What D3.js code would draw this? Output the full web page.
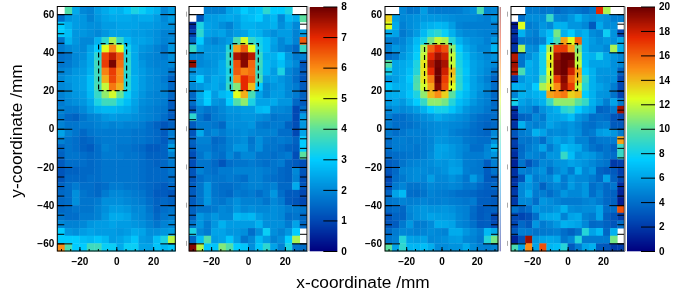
<!DOCTYPE html>
<html>
<head>
<meta charset="utf-8">
<script src="https://d3js.org/d3.v7.min.js"></script>
<style>
  html, body { margin: 0; padding: 0; background: #fff; }
  svg { display: block; filter: blur(0.4px); }
  text { font-family: "Liberation Sans", sans-serif; fill: #000; }
  .tick text { font-size: 10px; font-weight: bold; }
</style>
</head>
<body>
<div id="chart"></div>
<script>
const _ = null;

// rows run from the top of the plot (y = 64) down, each row has 16 bins
const low1 = [
  [_,3.9,2.5,2.0,1.9,2.3,2.5,2.7,2.6,2.9,3.3,3.1,2.8,2.6,2.0,2.3],
  [1.6,2.2,2.3,2.2,1.9,2.2,2.4,2.5,2.5,2.5,2.4,2.5,2.5,2.3,2.0,2.3],
  [3.0,2.6,2.3,2.2,2.1,2.1,2.3,2.3,2.4,2.4,2.4,2.3,2.3,2.2,2.1,2.1],
  [3.0,2.8,2.2,2.2,2.1,2.0,2.2,2.4,2.4,2.4,2.3,2.3,2.2,2.1,1.9,1.9],
  [1.7,2.6,2.2,2.0,2.0,2.6,3.5,4.6,3.6,2.7,2.4,2.4,2.3,2.1,1.9,2.0],
  [1.8,2.0,2.1,2.0,2.4,3.0,5.0,6.0,5.0,3.2,2.5,2.2,2.1,1.9,1.7,2.2],
  [1.6,1.7,2.0,2.1,2.5,3.5,6.7,7.3,6.5,3.4,2.5,2.1,2.0,1.9,1.8,2.1],
  [1.7,1.8,2.0,2.2,2.5,3.7,6.8,7.9,6.3,3.5,2.5,2.2,2.0,1.9,1.9,2.0],
  [1.9,2.0,2.2,2.3,2.6,3.7,6.1,6.8,6.0,3.5,2.5,2.3,2.1,2.0,1.9,1.7],
  [2.0,2.2,2.3,2.4,2.8,3.7,5.7,6.7,6.0,3.4,2.6,2.3,2.1,2.0,1.8,1.4],
  [2.0,2.1,2.3,2.4,2.8,3.8,4.8,6.2,5.7,3.4,2.6,2.3,2.1,2.0,1.9,1.5],
  [1.9,2.1,2.2,2.3,2.7,3.6,4.4,4.9,4.1,3.1,2.5,2.2,2.0,1.9,1.9,1.5],
  [1.8,2.0,2.1,2.2,2.5,3.3,3.7,3.7,3.2,2.8,2.4,2.1,2.0,1.9,1.8,1.3],
  [1.9,1.8,1.8,2.0,2.3,2.6,2.7,2.7,2.6,2.5,2.3,2.0,1.9,1.8,1.7,1.3],
  [1.8,1.5,1.4,1.7,1.9,2.0,2.2,2.3,2.2,2.2,2.1,2.0,1.9,1.8,1.6,1.3],
  [1.9,1.7,1.7,1.8,1.8,1.9,2.0,1.9,2.0,1.9,1.9,1.8,1.6,1.4,1.2,1.4],
  [2.4,1.9,1.7,1.5,1.7,1.8,1.8,1.8,1.8,1.8,1.7,1.7,1.6,1.5,1.3,1.8],
  [1.9,1.7,1.6,1.4,1.5,1.7,1.8,1.8,1.8,1.8,1.7,1.7,1.6,1.5,1.3,1.8],
  [1.5,1.7,1.6,1.4,1.3,1.6,1.9,1.8,1.7,1.7,1.6,1.5,1.3,1.3,1.4,2.3],
  [1.4,1.7,1.7,1.6,1.5,1.6,1.8,1.8,1.8,1.7,1.7,1.6,1.4,1.4,1.4,1.9],
  [1.3,1.6,1.6,1.6,1.5,1.6,1.7,1.7,1.7,1.7,1.7,1.6,1.5,1.4,1.5,1.8],
  [1.2,1.4,1.4,1.5,1.5,1.6,1.7,1.7,1.7,1.7,1.7,1.6,1.5,1.5,1.5,1.7],
  [1.2,1.5,1.5,1.5,1.6,1.6,1.7,1.7,1.7,1.7,1.7,1.6,1.5,1.5,1.5,1.6],
  [1.4,1.6,1.8,1.6,1.6,1.5,1.6,1.8,1.8,1.7,1.7,1.6,1.5,1.4,1.3,1.5],
  [1.5,1.6,2.1,1.7,1.6,1.5,1.8,2.0,2.0,1.9,1.8,1.7,1.5,1.3,1.3,1.2],
  [1.5,1.6,2.1,1.7,1.7,1.8,2.1,2.1,2.1,2.0,1.9,1.8,1.6,1.4,1.5,1.4],
  [1.5,1.6,1.7,1.7,1.7,1.9,2.1,2.3,2.3,2.2,2.0,2.0,1.7,1.4,1.6,1.7],
  [1.7,1.6,1.6,1.8,1.8,1.9,2.2,2.5,2.5,2.4,2.1,2.0,1.8,1.5,1.7,1.8],
  [2.0,1.9,1.9,2.0,2.2,2.3,2.3,2.4,2.3,2.3,2.2,2.1,1.9,1.7,1.9,2.0],
  [3.0,2.2,2.1,2.3,2.4,2.3,2.3,2.3,2.2,2.3,2.5,2.4,2.1,2.1,2.2,2.3],
  [3.0,3.0,3.0,2.8,2.7,2.9,2.7,2.3,2.4,2.6,2.9,2.3,2.2,2.8,3.3,4.7],
  [6.0,3.8,3.0,3.0,3.7,3.7,3.1,3.1,2.5,3.1,3.1,2.4,2.4,2.9,2.7,2.9]
];

const low2 = [
  [_,_,1.9,1.9,1.9,2.4,2.6,3.0,2.7,2.9,3.5,3.0,3.0,3.3,_,_],
  [_,1.2,2.3,2.3,2.4,2.5,2.4,2.7,2.8,3.0,2.5,2.7,2.0,2.7,2.5,4.0],
  [0.6,3.3,2.4,2.3,2.1,1.9,2.3,2.6,2.6,2.5,2.5,2.6,2.1,2.4,2.0,_],
  [0.9,3.5,2.4,2.3,2.4,2.1,2.3,2.4,2.7,2.6,2.3,2.1,2.3,2.3,1.9,2.3],
  [1.5,3.0,2.1,1.9,2.1,2.3,3.8,4.9,3.6,3.2,2.8,2.4,2.0,2.3,1.9,6.5],
  [3.6,2.4,2.2,2.2,2.2,3.4,5.8,6.5,5.0,3.3,2.8,2.3,2.0,1.8,1.5,3.6],
  [2.0,2.0,2.2,2.2,2.3,3.6,7.5,7.8,7.4,3.6,2.6,2.6,3.0,2.2,1.8,1.9],
  [7.7,2.0,2.1,2.2,2.5,3.5,6.6,7.8,6.4,3.7,2.7,2.5,2.8,2.3,2.0,1.2],
  [2.1,2.3,2.2,2.3,2.5,3.3,6.5,6.1,6.3,3.6,2.7,2.3,3.3,2.0,1.7,1.3],
  [2.3,3.0,2.2,2.5,2.4,3.4,6.0,7.0,6.5,3.8,2.3,2.4,2.2,2.0,1.6,1.2],
  [2.0,2.2,2.4,2.5,2.3,3.6,4.3,7.0,5.6,3.0,2.0,2.2,2.3,2.0,1.8,1.3],
  [1.5,2.5,3.0,2.3,2.7,2.9,5.0,5.7,3.8,2.4,2.0,2.3,2.3,2.0,1.8,1.4],
  [1.6,2.4,3.0,2.2,2.1,3.0,3.9,4.4,3.3,2.4,2.4,2.5,2.2,2.2,1.5,1.3],
  [1.2,1.9,1.7,1.8,2.0,2.2,2.2,2.3,2.3,2.7,2.8,2.0,2.0,1.9,1.0,1.6],
  [3.5,1.7,1.4,1.8,1.9,2.1,2.1,2.2,2.2,2.1,2.0,1.7,1.8,1.8,1.0,2.3],
  [1.3,1.8,1.8,1.7,1.5,2.1,2.1,2.1,2.2,1.8,1.7,1.8,1.8,1.4,1.1,2.2],
  [1.2,2.5,1.8,2.0,1.8,2.0,2.0,2.1,2.0,1.9,1.9,1.9,1.6,1.6,1.0,2.4],
  [1.4,1.9,1.9,1.5,1.6,1.9,2.0,2.1,1.7,2.1,1.8,1.7,1.8,1.7,1.4,3.0],
  [1.3,1.8,1.8,1.6,1.7,1.9,2.2,2.2,1.8,2.1,1.7,1.7,1.6,1.4,1.3,3.0],
  [1.1,1.7,2.0,1.7,1.6,2.0,1.7,2.0,2.0,1.7,1.7,1.6,1.7,1.8,1.1,4.0],
  [1.1,1.7,1.7,1.5,1.2,1.6,1.7,1.7,1.8,1.7,1.6,1.7,1.8,1.4,1.3,1.1],
  [1.2,1.9,1.7,1.6,1.8,1.8,1.9,1.9,1.9,1.9,1.8,1.7,1.5,1.4,2.0,1.2],
  [1.2,1.6,1.8,1.7,1.7,1.8,1.7,1.6,1.9,1.9,1.7,1.6,1.5,1.4,1.9,1.1],
  [1.3,1.7,2.2,1.7,1.6,1.6,1.7,1.8,1.9,1.9,1.8,1.9,1.5,1.5,2.5,1.2],
  [1.3,1.7,2.2,1.7,1.6,1.5,1.8,1.7,1.8,1.6,1.8,2.2,1.6,1.3,1.3,1.0],
  [1.3,1.7,2.2,1.8,1.7,1.9,2.1,1.9,1.9,1.9,1.7,2.0,1.8,1.3,1.2,1.0],
  [1.4,1.7,1.7,1.8,2.0,1.9,2.2,2.0,2.1,2.0,2.0,2.1,2.0,1.8,1.8,1.7],
  [1.4,2.2,2.0,2.2,2.0,2.0,2.7,2.6,2.7,2.3,2.1,2.1,2.0,1.6,1.7,1.5],
  [1.7,2.2,1.8,2.2,2.6,2.3,2.3,2.3,2.3,2.6,2.1,2.1,2.1,1.8,2.4,1.5],
  [3.3,2.0,1.8,2.4,2.4,2.2,2.2,2.1,1.6,2.1,3.1,2.1,1.9,2.2,3.0,_],
  [1.5,2.8,3.9,2.3,2.4,2.9,2.3,1.7,2.0,2.7,2.3,1.9,2.1,3.0,4.6,_],
  [7.8,4.7,2.9,2.9,4.3,3.9,3.0,2.9,2.1,2.9,3.5,2.4,1.9,3.3,1.7,1.6]
];

const high1 = [
  [_,_,5.0,4.3,4.5,5.8,4.6,4.5,4.5,4.5,4.6,5.0,5.3,9.5,4.8,5.0],
  [13.5,5.8,5.0,5.2,5.4,5.6,5.6,5.5,5.4,5.2,5.0,5.0,5.0,4.8,4.6,5.5],
  [12.5,6.3,4.7,5.2,5.5,6.2,6.5,6.8,6.6,5.8,4.8,4.6,4.6,4.6,4.6,4.7],
  [6.3,6.0,4.4,5.0,5.7,6.8,8.2,8.7,7.7,6.5,5.4,5.0,5.0,4.8,4.7,4.7],
  [4.6,4.6,4.9,5.7,6.8,8.2,10.5,12,11.5,8.5,6.5,5.7,5.3,5.2,4.7,5.6],
  [4.6,5.6,5.2,6.0,7.2,11.5,16,17.5,16.5,11,7.5,6.2,5.6,5.0,5.0,6.7],
  [4.0,4.4,5.5,6.3,7.6,12,17.5,19,18,12,8,6.8,5.8,5.4,5.0,5.4],
  [9.8,6,6.2,6.6,8.3,13,18.5,19.8,18.8,12,8.2,7,6,5.6,5.2,5.0],
  [8,6,6.3,7,8.5,13,17.5,20,18,14,8.5,7.2,6,5.5,5.0,4.2],
  [5.5,5.8,6.4,7.3,9.5,13,15.5,20,17,13.5,8.6,7,6,5.3,4.6,3.5],
  [7.2,6.5,6.5,7.0,9.7,12.2,14.5,19.5,16.5,12.5,8.8,7.2,6,5.5,5,4],
  [6.3,6.4,6.4,7.2,8.3,11,14,15,13.5,10,7.7,6.8,6,5.2,4.7,3.8],
  [5.7,6,5.6,6.5,7.5,9,11,11,10.5,8.5,7,6.4,5.6,5,4.6,3.8],
  [5,5.3,5,5.3,5.8,6.5,7.5,8,8,7.2,6.4,5.5,5,4.8,4.3,4],
  [4.6,4,4,4.4,4.8,5.2,5.6,6.2,5.8,5.6,5.3,5.0,4.4,4,3.8,4],
  [4.5,4.0,4,4.1,4.4,4.8,5,5.2,5.2,5,4.9,4.6,4.1,3.8,3.5,3.8],
  [4.4,4,4.3,4.7,4.7,4.6,5,5.2,5.3,4.8,4.5,4.3,4,3.8,3.6,5],
  [4,4.5,4.6,4.4,4.6,4.6,4.9,5.5,5.4,5.1,5,4.4,4.2,4,4,5.3],
  [4,4.5,4.5,4.5,4.3,4.6,5,6,6,5.6,5.2,4.8,4,4,4.8,6.5],
  [3.7,3.9,4.1,4.3,4.3,4.6,5.2,6,5.8,5.6,5.2,4.6,4.5,4.5,5,5.5],
  [3.3,3.6,4.2,4.7,4.9,5,5.2,5.5,5.4,5.8,5.6,4.6,4.5,4.3,3.3,4.7],
  [3,3.8,4.8,5,5.2,5.1,5,5.2,5.4,6,5.9,4.7,4.4,4.3,3.3,4.2],
  [2.5,4,4.4,5,5.2,4.9,5.8,5,5,5.4,5,4.3,5.7,4.6,3.2,3.3],
  [2.8,4.4,4.9,4.2,4.2,4.5,5,4.8,4.8,5,4.8,4.3,4.4,3.8,3.4,3.8],
  [3.6,6,6.8,4,3.9,4.2,4.8,4.6,4.5,4.3,4,3.9,3.7,3.4,3.3,3.2],
  [4.2,4.5,4.8,4.6,4.7,4.9,4.7,4.7,4.8,4.6,4.5,4.3,4.5,3.4,3.4,3.2],
  [3.7,4.0,3.7,5,5.3,5.6,5.4,5.4,5.5,5.3,4.9,4.7,3.9,3.2,3.4,3.5],
  [2.9,3.6,3.6,4.8,5.3,5.6,6.0,5.8,5.7,5.6,5.0,4.7,3.8,3.2,3.5,2.4],
  [3.0,3.3,4.4,5.6,4.5,4.6,5.1,6.3,6.2,6,5.0,4.7,4.1,3.3,3.4,2.6],
  [3.8,4.5,5,4.9,4.7,4.9,5.2,5,4.8,6.3,6.3,5.5,5,4.5,6.8,6.2],
  [4.3,4.7,8.5,6,5.8,6,5,5.1,5.3,5.7,5.8,5,4.8,4.3,8.5,10.5],
  [10,6,8.8,6.7,6.7,7,6.4,5.1,5.1,5.4,5.4,6.3,5.2,4.7,4.6,4.8]
];

const high2 = [
  [_,_,4.5,4.6,4.3,4.5,3.8,4.2,4.5,4.2,3.9,4.4,17.5,11.5,_,_],
  [_,4,5.2,5.2,5.2,9,5,4.8,5.5,6.5,5.5,5.2,5.6,5.3,4.6,4.7],
  [0.8,12.5,4.5,4.8,5.5,5,6.5,6.5,5.5,5.5,5,3.2,6.2,5.2,5.2,_],
  [1.6,6.5,5,4.6,6,7,10.5,6.5,7.5,6,6.5,5.2,4.8,7.8,5.4,2.5],
  [1.3,4.3,4.5,4.3,4.8,7.5,9.5,14.5,12.5,16,6.5,5.7,5.2,5.6,5.3,6.2],
  [1.8,11.5,5.3,5,7.5,11.5,17,17,14.5,10.5,6.5,5.5,5.5,5,11.5,6.5],
  [18.5,4.2,5.2,6,8,12.5,19,20,20,11.5,6.8,6.5,8,6,5.5,5],
  [19,4.2,6.5,6,8,13,19.5,20,19.5,12,7,6,6,6,5.3,5],
  [18.5,9.5,6.3,6,8,12.5,19.5,20,18,14.5,7.5,6.5,5.5,5.5,5.4,3.5],
  [2,5.5,6.2,6,9.5,12,17,19.5,16,14,9,6.5,5.5,5.3,5.3,2.5],
  [6.5,6.4,6,7.5,11.5,13,15,19,17,12,8.5,6.5,6,5.5,4.6,2.5],
  [4.8,6.5,6.2,6.5,6.8,14.5,15,15.5,13.5,14,7.5,6.5,5.5,5.4,4.2,2.4],
  [8,6,5.5,6,6.5,9,11,11,11,10,9,6.5,5.7,4.6,6,4.5],
  [1.5,5.2,5,4,5.3,6,6.5,8.5,9,7.5,6.5,6,3.5,3.8,4.5,19],
  [1.2,3.5,3.8,5,4.5,6,6,6.3,7,5.5,5,4,4.2,4,3,2.6],
  [1.8,6.5,5,4.6,5,6,5.5,5.2,5.5,5,4.2,4,4.5,4.7,3.2,3.2],
  [3,4.5,4.8,6.5,6,5,5.2,5,5.5,5.2,4.2,4.5,5.7,6,5.5,4.5],
  [2.2,4.3,4.2,4.7,4,5.4,6,5.5,6,4.8,4.8,3.9,4.4,4.5,4.5,14.5],
  [2,3.8,4.5,5,6,4.5,5.5,7,6.5,6.2,5,4.2,3.8,4.2,3.5,9],
  [1.6,4,5,4.8,4.5,5.5,5.5,9,7,5.5,5.8,5.5,4.8,4.2,4,9],
  [1.2,4.2,3,4,5,4.8,5.4,5.5,6,5.7,5.4,5,4.5,4.2,2,2.3],
  [1.7,4.7,4.5,5,5.4,4,5,5.5,4.5,6.5,5,5.5,3.6,3.3,3.2,2.2],
  [1.7,3,6,4.5,5,5,6.2,4.5,5.5,5,5,4.5,3.8,6,3.5,2.5],
  [1.8,5,5.5,4.8,3.5,4.6,5,4.5,5.7,5,5.5,4,4.5,3.8,4.3,1.5],
  [2,5,6.2,4.5,4.6,4,4.6,5.5,5,5,5.5,4,4.8,3.8,3.5,1.2],
  [2,5,5,4,5.5,5.2,4.8,4.5,4.5,4.5,4.8,5,4.5,3.8,3.5,1],
  [4.2,3.5,4,5.5,5.2,5.2,5.6,6.5,5.2,5,5.2,5.2,6,4,4,16.5],
  [2.5,2.4,2.8,4,6,6.2,6.4,4.8,6,6.2,4.8,4.5,6,3.5,3,2.2],
  [2.4,3.8,3.2,5.5,4.5,5,5.6,6.5,6.3,6,5,3.8,4,3.5,3,4],
  [3.2,4.6,4.5,4.2,4.4,4.5,4.7,4,3.5,4.2,8.5,6,6.8,3.7,6.5,_],
  [1.2,2.8,19,5.5,6,6.2,6,4.3,5,8.5,4.5,4.5,4.5,4.5,10.5,_],
  [9.5,6,15,6,16.5,6.7,7,8.5,3.2,4.5,6,6.5,3.2,3,2,2.2]
];

// bin edges in mm
const xEdges = d3.range(-32, 33, 4);
const yEdges = d3.range(64, -65, -4);
const xTicks = [-20, 0, 20];
const yTicks = [-60, -40, -20, 0, 20, 40, 60];
const yMinor = d3.range(-60, 61, 5);
const xMinor = d3.range(-30, 31, 5);
// dashed box around the hot region
const boxX = [-9.6, 5.6];
const boxY = [20, 44.6];

// palette, position is the fraction of the bar
const paletteStops = [0, 0.125, 0.25, 0.375, 0.5, 0.625, 0.75, 0.875, 1];
const paletteColors = ["#00007f", "#0048b4", "#0088d8", "#00ccff", "#5ae0a0", "#e0ff20", "#fa8c14", "#e62800", "#6e0000"];

const lowTicks = d3.range(0, 9);
const highTicks = d3.range(0, 21, 2);

const width = 677, height = 297;
const plotTop = 6.5, plotBottom = 251;

const svg = d3.select("#chart").append("svg")
  .attr("width", width)
  .attr("height", height);

const fraction = d3.scaleLinear().domain(paletteStops).range(paletteColors);

const y = d3.scaleLinear().domain([64, -64]).range([plotTop, plotBottom]);

function drawPanel(values, left, right, max, showY) {
  const x = d3.scaleLinear().domain([-32, 32]).range([left, right]);
  const g = svg.append("g");

  values.forEach(function(row, i) {
    row.forEach(function(v, j) {
      if (v === null) return;
      g.append("rect")
        .attr("x", x(xEdges[j]))
        .attr("y", y(yEdges[i]))
        .attr("width", x(xEdges[j + 1]) - x(xEdges[j]) + 0.4)
        .attr("height", y(yEdges[i + 1]) - y(yEdges[i]) + 0.4)
        .attr("fill", fraction(v / max));
    });
  });

  // minor and major ticks on both sides
  g.append("g").attr("transform", "translate(" + left + ",0)")
    .call(d3.axisLeft(y).tickValues(yMinor).tickSize(-7).tickFormat(""));
  g.append("g").attr("transform", "translate(" + right + ",0)")
    .call(d3.axisRight(y).tickValues(yMinor).tickSize(-7).tickFormat(""));
  g.append("g").attr("transform", "translate(" + right + ",0)")
    .call(d3.axisRight(y).tickValues(yTicks).tickSize(-15).tickFormat(""));
  const yAxis = g.append("g").attr("transform", "translate(" + left + ",0)")
    .call(d3.axisLeft(y).tickValues(yTicks).tickSize(-15));
  if (showY) {
    yAxis.selectAll("text").attr("x", -3);
  } else {
    yAxis.selectAll("text").remove();
  }

  g.append("g").attr("transform", "translate(0," + plotBottom + ")")
    .call(d3.axisBottom(x).tickValues(xMinor).tickSize(-2).tickFormat(""));
  const xAxis = g.append("g").attr("transform", "translate(0," + plotBottom + ")")
    .call(d3.axisBottom(x).tickValues(xTicks).tickSize(-4));
  xAxis.selectAll("text").attr("y", 7).attr("dy", "0.71em");

  g.selectAll(".domain").remove();

  g.append("rect")
    .attr("x", left).attr("y", plotTop)
    .attr("width", right - left).attr("height", plotBottom - plotTop)
    .attr("fill", "none").attr("stroke", "#000").attr("stroke-width", 1);

  g.append("path")
    .attr("d", d3.line()([[x(boxX[0]), y(boxY[0])], [x(boxX[1]), y(boxY[0])], [x(boxX[1]), y(boxY[1])], [x(boxX[0]), y(boxY[1])]]) + "Z")
    .attr("fill", "none")
    .attr("stroke", "#000")
    .attr("stroke-width", 1.2)
    .attr("stroke-dasharray", "5,3");
}

function drawBar(left, right, max, ticks) {
  const scale = d3.scaleLinear().domain([0, max]).range([plotBottom, plotTop]);
  const g = svg.append("g");
  const levels = d3.range(0, 244);
  g.selectAll("rect").data(levels).enter().append("rect")
    .attr("x", left)
    .attr("width", right - left)
    .attr("y", function(d) { return plotBottom - d - 1; })
    .attr("height", 1.3)
    .attr("fill", function(d) { return fraction((d + 0.5) / 244); });
  const axis = g.append("g").attr("transform", "translate(" + right + ",0)")
    .call(d3.axisRight(scale).tickValues(ticks).tickSize(-14));
  axis.selectAll("text").attr("x", 4);
  axis.select(".domain").remove();
  // the panel edge next to the bar is grey in the original
  svg.append("line")
    .attr("x1", left - 2).attr("x2", left - 2)
    .attr("y1", plotTop).attr("y2", plotBottom)
    .attr("stroke", "#999").attr("stroke-width", 1.5);
}

// leftovers between the panels: clipped labels and a sliver of colour bar
function drawScraps(x) {
  svg.append("g").selectAll("rect").data(yTicks).enter().append("rect")
    .attr("x", x)
    .attr("y", function(d) { return y(d) - 2.5; })
    .attr("width", 1)
    .attr("height", 5)
    .attr("fill", "#aaa");
}

drawPanel(low1, 57.3, 175.3, 8, true);
drawPanel(low2, 189, 307, 8, false);
drawBar(309.7, 337.3, 8, lowTicks);
drawPanel(high1, 385, 498, 20, true);
drawPanel(high2, 511, 624.3, 20, false);
drawBar(627, 655, 20, highTicks);
drawScraps(186);
drawScraps(507);

const sliver = svg.append("g").attr("opacity", 0.45);
sliver.selectAll("rect").data(d3.range(0, 244)).enter().append("rect")
  .attr("x", 499.6)
  .attr("width", 1.4)
  .attr("y", function(d) { return plotBottom - d - 1; })
  .attr("height", 1.3)
  .attr("fill", function(d) { return fraction((d + 0.5) / 244); });

svg.append("text")
  .attr("x", 363).attr("y", 288)
  .attr("text-anchor", "middle")
  .style("font-size", "17.3px")
  .text("x-coordinate /mm");

svg.append("text")
  .attr("transform", "translate(21.5,131) rotate(-90)")
  .attr("text-anchor", "middle")
  .style("font-size", "17.3px")
  .text("y-coordinate /mm");
</script>
</body>
</html>
